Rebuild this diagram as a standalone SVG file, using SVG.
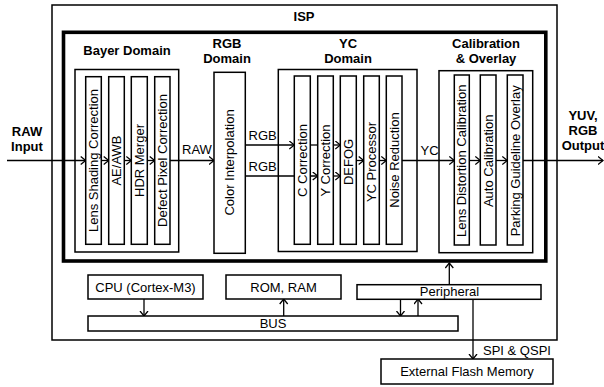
<svg xmlns="http://www.w3.org/2000/svg" width="604" height="387" viewBox="0 0 604 387">
<defs>
<marker id="ah" markerUnits="userSpaceOnUse" markerWidth="8" markerHeight="10" refX="5.5" refY="4.5" orient="auto">
<path d="M0.5,0.5 L5.5,4.5 L0.5,8.5" fill="none" stroke="#000" stroke-width="1.3"/>
</marker>
<style>
text{font-family:"Liberation Sans",Arial,sans-serif;font-size:13px;fill:#000}
.b{font-weight:bold}
.m{text-anchor:middle}
.box{fill:#fff;stroke:#000;stroke-width:1.5}
.cont{fill:none;stroke:#000;stroke-width:1.5}
.thick{fill:none;stroke:#000;stroke-width:3.6}
.ln{fill:none;stroke:#000;stroke-width:1.3;marker-end:url(#ah)}
.pl{fill:none;stroke:#000;stroke-width:1.3}
</style>
</defs>
<rect width="604" height="387" fill="#fff"/>

<g id="isp">
<rect class="cont" x="52" y="5" width="505" height="335"/>
<text class="b m" x="304" y="20.5">ISP</text>
</g>
<g id="pipeline">
<rect class="thick" x="63.5" y="32.3" width="482.3" height="228.7"/>
</g>
<g id="bayer-domain">
<rect class="cont" x="75" y="69.5" width="103.7" height="182.5"/>
<text class="b m" x="127" y="54.5">Bayer Domain</text>
</g>
<g id="yc-domain">
<rect class="cont" x="278.3" y="69.5" width="138.7" height="182"/>
<text class="b m" x="348" y="47.5">YC</text>
<text class="b m" x="348" y="63.3">Domain</text>
</g>
<g id="calib-domain">
<rect class="cont" x="439" y="70.7" width="93.7" height="182"/>
<text class="b m" x="486" y="47.5">Calibration</text>
<text class="b m" x="486" y="63.3">&amp; Overlay</text>
</g>
<g id="rgb-domain-label">
<text class="b m" x="227" y="48">RGB</text>
<text class="b m" x="227" y="63">Domain</text>
</g>
<g id="raw-input">
<text class="b m" x="27" y="136">RAW</text>
<text class="b m" x="27" y="151">Input</text>
</g>
<g id="output">
<text class="b m" x="583" y="119.5">YUV,</text>
<text class="b m" x="583" y="134.5">RGB</text>
<text class="b m" x="583" y="149.5">Output</text>
</g>

<g id="connectors">
<line class="ln" x1="7" y1="160.5" x2="85.7" y2="160.5"/>
<line class="ln" x1="101.3" y1="160.5" x2="108.7" y2="160.5"/>
<line class="ln" x1="124.3" y1="160.5" x2="131.3" y2="160.5"/>
<line class="ln" x1="147.3" y1="160.5" x2="154.7" y2="160.5"/>
<line class="ln" x1="170" y1="160.5" x2="214" y2="160.5"/>
<text x="182" y="153.5">RAW</text>
<line class="ln" x1="245.3" y1="145" x2="294.3" y2="145"/>
<line class="ln" x1="245.3" y1="176" x2="317.7" y2="176"/>
<text x="248.5" y="140">RGB</text>
<text x="248.5" y="170.5">RGB</text>
<line class="ln" x1="310.3" y1="145" x2="340.3" y2="145"/>
<line class="ln" x1="333.3" y1="176" x2="340.3" y2="176"/>
<line class="ln" x1="356.3" y1="160.5" x2="363.7" y2="160.5"/>
<line class="ln" x1="379.3" y1="160.5" x2="386.3" y2="160.5"/>
<line class="ln" x1="402" y1="160.5" x2="454.3" y2="160.5"/>
<text x="420.5" y="155">YC</text>
<line class="ln" x1="469.3" y1="160.5" x2="480.3" y2="160.5"/>
<line class="ln" x1="496" y1="160.5" x2="507.3" y2="160.5"/>
<line class="ln" x1="523" y1="160.5" x2="603" y2="160.5"/>
<line class="ln" x1="144" y1="299" x2="144" y2="316"/>
<line class="ln" x1="283.7" y1="316" x2="283.7" y2="299"/>
<line class="ln" x1="400.5" y1="299" x2="400.5" y2="316"/>
<line class="ln" x1="418" y1="316" x2="418" y2="299"/>
<line class="ln" x1="449.3" y1="284.7" x2="449.3" y2="263"/>
<line class="ln" x1="473" y1="299.3" x2="473" y2="359"/>
<text x="483" y="355">SPI &amp; QSPI</text>
</g>

<g id="lens-shading">
<rect class="box" x="85.7" y="76.7" width="15.6" height="167.6"/>
<text class="m" transform="translate(93.5,160.5) rotate(-90)" y="4.6">Lens Shading Correction</text>
</g>
<g id="ae-awb">
<rect class="box" x="108.7" y="76.7" width="15.6" height="167.6"/>
<text class="m" transform="translate(116.5,160.5) rotate(-90)" y="4.6">AE/AWB</text>
</g>
<g id="hdr-merger">
<rect class="box" x="131.3" y="76.7" width="16" height="167.6"/>
<text class="m" transform="translate(139.3,160.5) rotate(-90)" y="4.6">HDR Merger</text>
</g>
<g id="defect-pixel">
<rect class="box" x="154.7" y="76.7" width="15.3" height="167.6"/>
<text class="m" transform="translate(162.3,160.5) rotate(-90)" y="4.6">Defect Pixel Correction</text>
</g>
<g id="color-interpolation">
<rect class="box" x="214" y="72.3" width="31.3" height="181"/>
<text class="m" transform="translate(229.7,162.5) rotate(-90)" y="4.6">Color Interpolation</text>
</g>
<g id="c-correction">
<rect class="box" x="294.3" y="76" width="16" height="168.3"/>
<text class="m" transform="translate(302.3,160.5) rotate(-90)" y="4.6">C Correction</text>
</g>
<g id="y-correction">
<rect class="box" x="317.7" y="76" width="15.6" height="168.3"/>
<text class="m" transform="translate(325.5,160.5) rotate(-90)" y="4.6">Y Correction</text>
</g>
<g id="defog">
<rect class="box" x="340.3" y="76" width="16" height="168.3"/>
<text class="m" transform="translate(348.3,162) rotate(-90)" y="4.6">DEFOG</text>
</g>
<g id="yc-processor">
<rect class="box" x="363.7" y="76" width="15.6" height="168.3"/>
<text class="m" transform="translate(371.5,162) rotate(-90)" y="4.6">YC Processor</text>
</g>
<g id="noise-reduction">
<rect class="box" x="386.3" y="76" width="15.7" height="168.3"/>
<text class="m" transform="translate(394.2,160) rotate(-90)" y="4.6">Noise Reduction</text>
</g>
<g id="lens-distortion">
<rect class="box" x="454.3" y="75" width="15" height="170"/>
<text class="m" transform="translate(461.3,160.8) rotate(-90)" y="4.6">Lens Distortion Calibration</text>
</g>
<g id="auto-calibration">
<rect class="box" x="480.3" y="75" width="15.7" height="170"/>
<text class="m" transform="translate(488,160.8) rotate(-90)" y="4.6">Auto Calibration</text>
</g>
<g id="parking-guideline">
<rect class="box" x="507.3" y="75" width="15.7" height="170"/>
<text class="m" transform="translate(515,160.8) rotate(-90)" y="4.6">Parking Guideline Overlay</text>
</g>

<g id="cpu">
<rect class="box" x="88" y="275" width="115" height="24"/>
<text class="m" x="145.5" y="292">CPU (Cortex-M3)</text>
</g>
<g id="rom-ram">
<rect class="box" x="226" y="275" width="115" height="24"/>
<text class="m" x="283.5" y="292">ROM, RAM</text>
</g>
<g id="peripheral">
<rect class="box" x="357" y="284.7" width="184" height="14.6"/>
<text class="m" x="449.5" y="296">Peripheral</text>
</g>
<g id="bus">
<rect class="box" x="88" y="316" width="370" height="15"/>
<text class="m" x="273" y="327.5">BUS</text>
</g>
<g id="external-flash">
<rect class="box" x="381" y="359" width="172" height="25"/>
<text class="m" x="467" y="376">External Flash Memory</text>
</g>
</svg>
